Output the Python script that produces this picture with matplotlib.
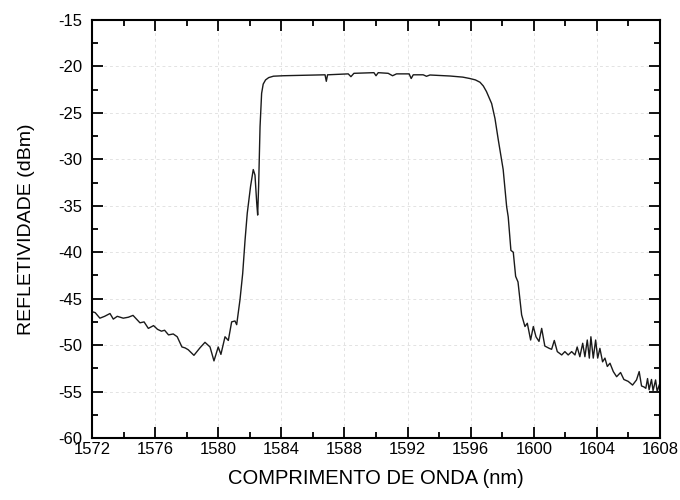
import matplotlib
matplotlib.use("Agg")
from matplotlib import pyplot as plt
from matplotlib.ticker import MultipleLocator

# wavelength (nm) and reflectivity (dBm)
wavelength = [1572.0, 1572.2, 1572.5, 1572.8, 1573.14, 1573.35, 1573.6, 1573.98, 1574.3, 1574.6,
              1575.04, 1575.3, 1575.57, 1575.9, 1576.15, 1576.4, 1576.6, 1576.85, 1577.15, 1577.4,
              1577.7, 1577.9, 1578.1, 1578.46, 1578.84, 1579.16, 1579.48, 1579.73, 1580.0, 1580.17,
              1580.43, 1580.64, 1580.85, 1581.06, 1581.17, 1581.38, 1581.55, 1581.7, 1581.84,
              1582.05, 1582.22, 1582.33, 1582.44, 1582.5, 1582.56, 1582.65, 1582.75, 1582.85,
              1583.0, 1583.2, 1583.5, 1584.12, 1586.77, 1586.85, 1586.93, 1588.24, 1588.41,
              1588.6, 1589.87, 1590.0, 1590.14, 1590.77, 1591.05, 1591.3, 1592.1, 1592.23,
              1592.36, 1592.99, 1593.2, 1593.42, 1594.69, 1595.5, 1595.95, 1596.3, 1596.59,
              1596.8, 1597.0, 1597.33, 1597.54, 1597.75, 1598.06, 1598.28, 1598.38, 1598.55,
              1598.7, 1598.85, 1599.0, 1599.12, 1599.23, 1599.44, 1599.59, 1599.8, 1599.97,
              1600.14, 1600.33, 1600.5, 1600.7, 1600.98, 1601.13, 1601.3, 1601.49, 1601.77,
              1601.97, 1602.18, 1602.4, 1602.61, 1602.75, 1602.92, 1603.1, 1603.24, 1603.39,
              1603.52, 1603.62, 1603.77, 1603.92, 1604.05, 1604.19, 1604.36, 1604.51, 1604.66,
              1604.83, 1605.04, 1605.25, 1605.5, 1605.71, 1605.98, 1606.26, 1606.51, 1606.68,
              1606.83, 1606.98, 1607.1, 1607.21, 1607.31, 1607.46, 1607.56, 1607.72, 1607.82,
              1607.95]
reflectivity = [-46.4, -46.5, -47.1, -46.9, -46.6, -47.2, -46.9, -47.1, -47.0, -46.8,
                -47.6, -47.5, -48.2, -47.9, -48.3, -48.5, -48.4, -48.9, -48.8, -49.1,
                -50.2, -50.3, -50.5, -51.1, -50.3, -49.7, -50.2, -51.7, -50.2, -51.0,
                -49.1, -49.5, -47.5, -47.4, -47.8, -45.1, -42.3, -38.7, -35.8,
                -32.9, -31.1, -31.7, -34.7, -36.0, -32.9, -26.5, -22.9, -21.9,
                -21.45, -21.2, -21.05, -21.0, -20.9, -21.6, -20.9, -20.8, -21.1,
                -20.74, -20.67, -21.0, -20.67, -20.74, -21.0, -20.8, -20.8, -21.3,
                -20.9, -20.9, -21.06, -20.92, -21.03, -21.15, -21.3, -21.45, -21.7,
                -22.1, -22.7, -24.0, -25.6, -27.9, -31.1, -35.1, -36.2, -39.8,
                -40.0, -42.6, -43.2, -45.1, -46.75, -48.0, -47.65, -49.45, -48.0,
                -49.1, -49.6, -48.2, -50.1, -50.35, -50.45, -49.5, -50.7, -51.06,
                -50.7, -51.06, -50.7, -51.06, -50.2, -51.25, -49.8, -51.25, -49.45,
                -51.4, -49.1, -51.4, -49.45, -51.4, -50.35, -51.8, -51.4, -52.3,
                -51.95, -52.85, -53.4, -52.95, -53.7, -53.9, -54.3, -53.75, -52.85,
                -54.4, -54.5, -54.65, -53.6, -54.8, -53.7, -54.9, -53.75, -55.0,
                -54.3]

plt.rcParams['font.family'] = ['Liberation Sans', 'DejaVu Sans']
plt.rcParams['axes.unicode_minus'] = False

fig = plt.figure(figsize=(6.8, 5), dpi=100)
ax = fig.add_axes([0.1353, 0.124, 0.8353, 0.836])

ax.plot(wavelength, reflectivity, color='#1a1a1a', linewidth=1.0)

ax.set_xlim(1572, 1608)
ax.set_ylim(-60, -15)
ax.xaxis.set_major_locator(MultipleLocator(4))
ax.xaxis.set_minor_locator(MultipleLocator(2))
ax.yaxis.set_major_locator(MultipleLocator(5))
ax.yaxis.set_minor_locator(MultipleLocator(2.5))
ax.tick_params(which='both', direction='in', top=True, right=True, labelsize=12, width=1.3)
ax.tick_params(which='major', length=8)
ax.tick_params(which='minor', length=4)
ax.tick_params(axis='x', pad=3)
ax.tick_params(axis='y', pad=7)
for s in ax.spines.values():
    s.set_linewidth(1.5)

ax.grid(True, which='major', color='#e3e3e3', linestyle=(0, (3, 3)), linewidth=0.7)

ax.set_xlabel('COMPRIMENTO DE ONDA (nm)', fontsize=14.5)
ax.set_ylabel('REFLETIVIDADE (dBm)', fontsize=14)
ax.xaxis.set_label_coords(0.5, -0.074)
ax.yaxis.set_label_coords(-0.1, 0.5)

fig.savefig('out.png', dpi=100)
